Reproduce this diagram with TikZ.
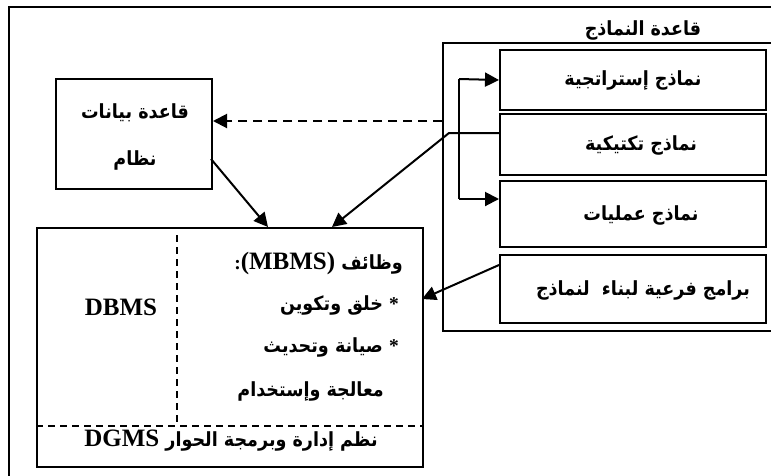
\documentclass[tikz,border=0pt]{standalone}
\usepackage{fontspec}
\setmainfont{Liberation Serif}
\newfontfamily\arabicfont[Script=Arabic, FakeStretch=0.9]{DejaVu Sans Bold}
\TeXXeTstate=1
\usetikzlibrary{arrows.meta}

\begin{document}
\begin{tikzpicture}[x=1pt,y=-1pt,
  box/.style={draw, line width=2pt, inner sep=0pt},
  ar/.style={font=\arabicfont\fontsize{19.5}{24}\selectfont, inner sep=0pt},
  lat/.style={font=\bfseries\fontsize{25}{28}\selectfont, inner sep=0pt},
  conn/.style={line width=2pt, -{Triangle[length=14pt,width=14pt]}},
  sepline/.style={line width=1.5pt, dash pattern=on 7pt off 5pt}]
\useasboundingbox (0,0) rectangle (771,475);
\clip (0,0) rectangle (771,475);

% outer frame (runs off the page on the right and bottom)
\draw[line width=2pt] (9,495) |- (795,7);

% model base container
\node[box, anchor=north west, minimum width=360pt, minimum height=288pt] (mbase) at (442,42) {};
\node[ar, anchor=south] (mtitle) at (643,40) {\beginR قاعدة النماذج\endR};

% model boxes
\node[box, anchor=north west, minimum width=266pt, minimum height=60pt] (strat) at (499,49) {};
\node[box, anchor=north west, minimum width=266pt, minimum height=61pt] (tact) at (499,113) {};
\node[box, anchor=north west, minimum width=266pt, minimum height=66pt] (ops) at (499,180) {};
\node[box, anchor=north west, minimum width=266pt, minimum height=68pt] (sub) at (499,254) {};
\node[ar] (tstrat) at (633,80) {\beginR نماذج إستراتجية\endR};
\node[ar] (ttact) at (641,145) {\beginR نماذج تكتيكية\endR};
\node[ar] (tops) at (641,215) {\beginR نماذج عمليات\endR};
\node[ar] (tsub) at (643,290) {\beginR برامج فرعية لبناء \ لنماذج\endR};

% system database
\node[box, anchor=north west, minimum width=156pt, minimum height=110pt] (sysdb) at (55,78) {};
\node[ar] (tdb1) at (135,113) {\beginR قاعدة بيانات\endR};
\node[ar] (tdb2) at (135,160) {\beginR نظام\endR};

% management system block
\node[box, anchor=north west, minimum width=386pt, minimum height=239pt] (main) at (36,227) {};
\coordinate (vtop) at (177,235);
\coordinate (hsep) at (36,426);
\draw[sepline] (vtop) -- (vtop |- hsep);
\draw[sepline] (hsep) -- (hsep -| main.east);
\node[lat] (dbms) at (121,307) {DBMS};
\node[ar, anchor=east] (mb1) at (403,263) {\beginR وظائف \beginL{\rmfamily\bfseries\fontsize{25}{28}\selectfont (MBMS)}\endL{\rmfamily\bfseries :}\endR};
\node[ar, anchor=east] (mb2) at (399,305) {\beginR{\rmfamily\bfseries *} خلق وتكوين\endR};
\node[ar, anchor=east] (mb3) at (399,347) {\beginR{\rmfamily\bfseries *} صيانة وتحديث\endR};
\node[ar, anchor=east] (mb4) at (384,391) {\beginR معالجة وإستخدام\endR};
\node[ar] (dgms) at (231,441) {\beginR نظم إدارة وبرمجة الحوار \beginL{\rmfamily\bfseries\fontsize{25}{28}\selectfont DGMS}\endL\endR};

% connectors
\coordinate (bt) at (459,79);
\coordinate (bb) at (459,199);
\draw[line width=2pt] (bt) -- (bb);
\draw[conn] (bt) -- (strat.west);
\draw[conn] (bb) -- (bb -| ops.west);

\coordinate (dd) at (442,121);
\draw[conn, dash pattern=on 9pt off 6pt] (dd) -- (dd -| sysdb.east);

\coordinate (tk) at (449,133);
\coordinate (mt2) at (332,227);
\draw[conn] (tk -| tact.west) -- (tk) -- (mt2);

\coordinate (sd) at (211,159);
\coordinate (mt1) at (268,227);
\draw[conn] (sd) -- (mt1);

\coordinate (sw) at (499,265);
\coordinate (me) at (422,299);
\draw[conn] (sw) -- (me);
\end{tikzpicture}
\end{document}
